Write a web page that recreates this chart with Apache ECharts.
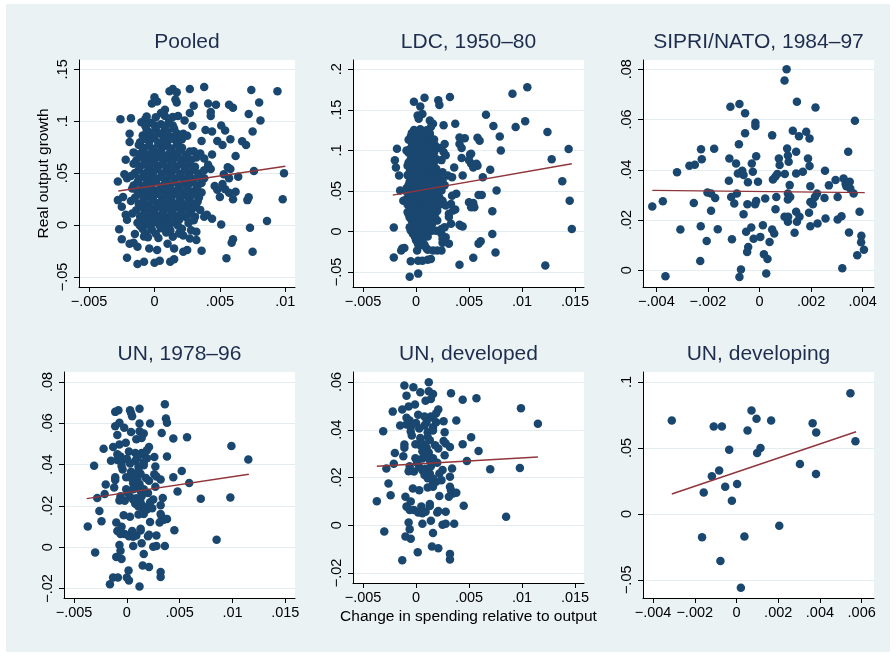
<!DOCTYPE html>
<html>
<head>
<meta charset="utf-8">
<script src="https://cdn.jsdelivr.net/npm/echarts@6/dist/echarts.min.js"></script>
<style>
html, body { margin: 0; padding: 0; background: #fff; }
#frame { position: absolute; left: 6px; top: 4px; width: 884px; height: 648px; background: #eaf2f3; }
#chart { position: absolute; left: 0; top: 0; width: 896px; height: 656px; }
</style>
</head>
<body>
<div id="frame"></div>
<div id="chart"></div>
<script>
// panel titles
const titles = ["Pooled", "LDC, 1950\u201380", "SIPRI/NATO, 1984\u201397", "UN, 1978\u201396", "UN, developed", "UN, developing"];

// tick values per panel
const ticksX1 = [-0.005, 0, 0.005, 0.01];
const ticksY1 = [-0.05, 0, 0.05, 0.1, 0.15];
const ticksX2 = [-0.005, 0, 0.005, 0.01, 0.015];
const ticksY2 = [-0.05, 0, 0.05, 0.1, 0.15, 0.2];
const ticksX3 = [-0.004, -0.002, 0, 0.002, 0.004];
const ticksY3 = [0, 0.02, 0.04, 0.06, 0.08];
const ticksX4 = [-0.005, 0, 0.005, 0.01, 0.015];
const ticksY4 = [-0.02, 0, 0.02, 0.04, 0.06, 0.08];
const ticksX5 = [-0.005, 0, 0.005, 0.01, 0.015];
const ticksY5 = [-0.02, 0, 0.02, 0.04, 0.06];
const ticksX6 = [-0.004, -0.002, 0, 0.002, 0.004, 0.006];
const ticksY6 = [-0.05, 0, 0.05, 0.1];

// fitted lines (end points)
const fitPooled = [[-0.00276, 0.0328], [0.0100, 0.0566]];
const fitLdc = [[-0.0022, 0.0449], [0.0147, 0.0835]];
const fitSipri = [[-0.00416, 0.0318], [0.00408, 0.0309]];
const fitUn = [[-0.0038, 0.0235], [0.01155, 0.0353]];
const fitDeveloped = [[-0.0037, 0.0247], [0.0115, 0.0286]];
const fitDeveloping = [[-0.0031, 0.0151], [0.00573, 0.0623]];

// Pooled: scattered points
const pooledOuter = [
  [0.0014,0.131],[0.00115,0.129],[0.0017,0.128],[0.0027,0.131],[0.0038,0.133],[0.0074,0.130],[0.0094,0.129],
  [0.0080,0.118],[0.0,0.123],[0.0002,0.119],[-0.0002,0.117],[0.0016,0.121],[0.0017,0.118],[0.0030,0.115],
  [0.0041,0.117],[0.0047,0.116],[0.0057,0.116],[0.0060,0.113],[0.0043,0.109],[0.0043,0.105],[0.0018,0.105],
  [0.0008,0.111],[0.0005,0.108],[0.0023,0.1006],[0.0027,0.108],[-0.0026,0.102],[-0.0018,0.103],[-0.0007,0.102],
  [-0.0010,0.099],[0.0072,0.107],[0.0081,0.1006],[0.0051,0.096],[0.0054,0.091],[0.0075,0.090],[0.0039,0.0916],
  [0.0044,0.090],[0.0029,0.0955],[0.0022,0.088],[0.0016,0.086],[0.0025,0.086],[-0.0019,0.088],[-0.0019,0.080],
  [0.0048,0.081],[0.0058,0.0826],[0.0052,0.077],[0.0067,0.0807],[0.0070,0.077],[0.0036,0.081],[0.0062,0.0666],
  [0.0044,0.068],[0.0030,0.071],[0.0035,0.069],[-0.0022,0.063],[-0.0016,0.070],[0.0038,0.064],[0.0041,0.058],
  [0.0043,0.054],[0.0056,0.0556],[0.0058,0.054],[0.0076,0.052],[0.0099,0.0498],[0.0053,0.049],[0.0064,0.0466],
  [0.0057,0.045],[0.0038,0.045],[-0.0028,0.042],[-0.0023,0.049],[-0.0021,0.045],[0.0046,0.0376],[0.0052,0.0395],
  [0.0054,0.0344],[0.0048,0.034],[0.0057,0.031],[0.0062,0.032],[0.0050,0.027],[0.0060,0.0248],[0.0071,0.024],
  [0.0072,0.0267],[0.0098,0.0248],[-0.0028,0.024],[-0.0024,0.027],[-0.0025,0.0177],[-0.0022,0.010],[-0.0021,0.005],
  [-0.0027,-0.004],[-0.0025,-0.0138],[0.0051,0.0006],[0.0086,0.0039],[0.0073,-0.0026],[0.0060,-0.0138],
  [0.0059,-0.017],[0.0075,-0.0257],[0.0055,-0.032],[0.0036,-0.0248],[0.0025,-0.024],[0.0032,-0.0145],
  [-0.0021,-0.0315],[-0.0013,-0.0376],[-0.0008,-0.0354],[0.0,-0.0363],[0.0004,-0.0344],[0.0012,-0.0354],
  [0.0015,-0.033],[-0.0004,-0.0225],[0.0002,-0.024],[0.0010,-0.018],[0.0015,-0.0225],[0.0022,-0.0257],
  [-0.0016,-0.017],[-0.0013,-0.021],[-0.0019,-0.018],[-0.0015,-0.0087],[-0.0008,-0.011],[0.0019,-0.008],
  [0.0022,-0.010],[0.0012,-0.006],[0.0028,-0.005],[0.0032,-0.0065],[0.0038,0.008],[0.0040,0.010],[0.0044,0.006]
];
// Pooled: dense middle cluster
const pooledCore = [
  [-0.0003,0.0985],[0.0005,0.0972],[0.0011,0.0991],
  [-0.0006,0.0918],[0.0001,0.0925],[0.0008,0.0912],[0.0015,0.0930],
  [-0.0009,0.0862],[-0.0002,0.0855],[0.0006,0.0868],[0.0012,0.0849],
  [-0.0011,0.0798],[-0.0004,0.0806],[0.0003,0.0792],[0.0010,0.0810],[0.0018,0.0795],
  [-0.0008,0.0741],[-0.0001,0.0733],[0.0006,0.0748],[0.0013,0.0736],[0.0021,0.0744],
  [-0.0012,0.0683],[-0.0005,0.0676],[0.0002,0.0689],[0.0009,0.0671],[0.0016,0.0685],[0.0024,0.0678],
  [-0.0014,0.0622],[-0.0007,0.0615],[0.0000,0.0628],[0.0007,0.0611],[0.0014,0.0624],[0.0021,0.0617],[0.0028,0.0630],
  [-0.0011,0.0563],[-0.0004,0.0556],[0.0003,0.0570],[0.0010,0.0552],[0.0017,0.0565],[0.0024,0.0558],[0.0031,0.0561],
  [-0.0015,0.0501],[-0.0008,0.0494],[-0.0001,0.0508],[0.0006,0.0497],[0.0013,0.0505],[0.0020,0.0492],[0.0027,0.0503],[0.0034,0.0496],
  [-0.0012,0.0443],[-0.0005,0.0436],[0.0002,0.0449],[0.0009,0.0432],[0.0016,0.0446],[0.0023,0.0438],[0.0030,0.0441],
  [-0.0016,0.0382],[-0.0009,0.0375],[-0.0002,0.0388],[0.0005,0.0371],[0.0012,0.0384],[0.0019,0.0377],[0.0026,0.0390],[0.0033,0.0379],
  [-0.0013,0.0322],[-0.0006,0.0315],[0.0001,0.0328],[0.0008,0.0311],[0.0015,0.0324],[0.0022,0.0317],[0.0029,0.0320],[0.0036,0.0313],
  [-0.0015,0.0262],[-0.0008,0.0255],[-0.0001,0.0268],[0.0006,0.0251],[0.0013,0.0264],[0.0020,0.0257],[0.0027,0.0260],[0.0034,0.0266],
  [-0.0012,0.0203],[-0.0005,0.0196],[0.0002,0.0209],[0.0009,0.0192],[0.0016,0.0205],[0.0023,0.0198],[0.0030,0.0201],
  [-0.0014,0.0142],[-0.0007,0.0135],[0.0000,0.0148],[0.0007,0.0131],[0.0014,0.0144],[0.0021,0.0137],[0.0028,0.0140],[0.0035,0.0146],
  [-0.0011,0.0083],[-0.0004,0.0076],[0.0003,0.0089],[0.0010,0.0072],[0.0017,0.0085],[0.0024,0.0078],[0.0031,0.0081],
  [-0.0013,0.0022],[-0.0006,0.0015],[0.0001,0.0028],[0.0008,0.0011],[0.0015,0.0024],[0.0026,0.0019],
  [-0.0009,-0.0038],[-0.0002,-0.0045],[0.0005,-0.0032],[0.0012,-0.0049],[0.0021,-0.0036],
  [-0.0005,-0.0118],[0.0003,-0.0125],[0.0014,-0.0112],[0.0027,-0.0130]
];
const pooledFill = [
  [-0.0006,0.1045],[0.0001,0.1038],[0.0008,0.1051],[0.0014,0.1042],
  [-0.0007,0.0955],[0.0000,0.0962],[0.0008,0.0949],[0.0014,0.0958],
  [-0.0004,0.0893],[0.0003,0.0886],[0.0010,0.0897],[0.0017,0.0884],
  [-0.0007,0.0828],[0.0000,0.0835],[0.0007,0.0822],[0.0014,0.0831],[0.0021,0.0826],
  [-0.0012,0.0772],[-0.0004,0.0766],[0.0003,0.0777],[0.0010,0.0764],[0.0017,0.0773],
  [-0.0009,0.0712],[-0.0002,0.0705],[0.0005,0.0716],[0.0012,0.0703],[0.0019,0.0714],[0.0027,0.0708],
  [-0.0010,0.0652],[-0.0003,0.0645],[0.0004,0.0656],[0.0011,0.0643],[0.0018,0.0654],[0.0025,0.0647],[0.0032,0.0651],
  [-0.0016,0.0591],[-0.0008,0.0586],[-0.0001,0.0595],[0.0006,0.0583],[0.0013,0.0594],[0.0020,0.0587],[0.0027,0.0592],
  [-0.0012,0.0533],[-0.0005,0.0526],[0.0002,0.0537],[0.0009,0.0524],[0.0016,0.0535],[0.0023,0.0528],[0.0030,0.0532],[0.0038,0.0527],
  [-0.0018,0.0472],[-0.0009,0.0465],[-0.0002,0.0476],[0.0005,0.0463],[0.0012,0.0474],[0.0019,0.0467],[0.0026,0.0471],[0.0033,0.0466],
  [-0.0013,0.0412],[-0.0006,0.0405],[0.0001,0.0416],[0.0008,0.0403],[0.0015,0.0414],[0.0022,0.0407],[0.0029,0.0411],[0.0036,0.0406],
  [-0.0017,0.0352],[-0.0010,0.0345],[-0.0003,0.0356],[0.0004,0.0343],[0.0011,0.0354],[0.0018,0.0347],[0.0025,0.0351],[0.0032,0.0346],
  [-0.0010,0.0292],[-0.0003,0.0285],[0.0004,0.0296],[0.0011,0.0283],[0.0018,0.0294],[0.0025,0.0287],[0.0032,0.0291],
  [-0.0018,0.0232],[-0.0009,0.0225],[-0.0002,0.0236],[0.0005,0.0223],[0.0012,0.0234],[0.0019,0.0227],[0.0026,0.0231],[0.0033,0.0226],
  [-0.0010,0.0172],[-0.0003,0.0165],[0.0004,0.0176],[0.0011,0.0163],[0.0018,0.0174],[0.0025,0.0167],[0.0032,0.0171],
  [-0.0017,0.0112],[-0.0008,0.0105],[-0.0001,0.0116],[0.0006,0.0103],[0.0013,0.0114],[0.0020,0.0107],[0.0027,0.0111],
  [-0.0009,0.0052],[-0.0002,0.0045],[0.0005,0.0056],[0.0012,0.0043],[0.0019,0.0054],[0.0030,0.0047],
  [-0.0011,-0.0008],[-0.0003,-0.0015],[0.0004,-0.0004],[0.0011,-0.0017],[0.0018,-0.0006],
  [-0.0007,-0.0078],[0.0001,-0.0085],[0.0009,-0.0072],[0.0019,-0.0081]
];

// LDC, 1950-80
const ldcOuter = [
  [0.0105,0.178],[0.0091,0.170],[0.0094,0.129],[0.0103,0.136],[0.0124,0.1226],[0.0144,0.1016],[0.0128,0.089],
  [0.0138,0.062],[0.0145,0.038],[0.0147,0.003],[0.0122,-0.042],[0.0066,0.144],[0.0073,0.130],[0.0079,0.117],
  [0.0080,0.100],[0.0070,0.076],[0.0076,0.0506],[0.0072,0.025],[0.0072,-0.003],[0.0075,-0.026],[0.0054,-0.0325],
  [0.0059,-0.015],[0.0061,-0.012],[0.0063,0.067],[0.0062,0.045],[0.0059,0.045],[0.0054,0.035],[0.0055,0.030],
  [0.0052,0.0835],[0.0058,0.081],[0.0051,0.095],[0.0058,0.1156],[0.0060,0.112],[0.0046,0.115],[0.0041,0.116],
  [0.0041,0.108],[0.0043,0.103],[0.0043,0.0905],[0.0052,0.096],[0.0050,0.0877],[0.0036,0.079],[0.0044,0.069],
  [0.0038,0.0465],[0.0037,0.027],[0.0042,0.007],[0.0044,0.006],[0.0041,-0.041],[0.0037,0.133],[0.0032,0.166],
  [0.0021,0.162],[0.0022,0.156],[0.0008,0.165],[-0.0002,0.160],[0.0004,0.154],[0.00015,0.143],[0.0006,0.145],
  [0.00025,0.139],[0.0013,0.137],[0.0016,0.133],[0.0014,0.129],[0.0026,0.131],[0.0018,0.106],[0.0022,0.103],
  [0.0027,0.108],[0.0026,0.098],[0.0017,0.090],[0.0024,0.088],[0.0028,0.094],[0.0025,0.073],[0.0030,0.069],
  [0.0034,0.067],[0.0054,0.079],[0.0057,0.0836],[0.0022,0.067],[0.0025,0.063],[0.0027,0.057],[0.0024,0.0506],
  [0.0022,0.042],[0.0025,0.038],[0.0028,0.032],[0.0035,0.026],[0.0031,0.0177],[0.0033,0.0095],[0.0027,0.0053],
  [0.0024,-0.0029],[0.0028,-0.007],[0.0031,-0.015],[0.0041,0.0083],[0.0050,0.036],[0.0052,0.030],
  [-0.0018,0.102],[-0.0020,0.0877],[-0.0019,0.079],[-0.0016,0.069],[-0.0015,0.0506],[-0.0009,0.100],
  [-0.0008,0.024],[-0.0009,0.040],[-0.0021,0.005],[-0.0013,-0.021],[-0.0021,-0.032],[-0.0014,-0.0235],
  [-0.0011,-0.0205],[-0.0012,0.038],[-0.0005,-0.0366],[-0.0006,-0.056],[0.0002,-0.052],[0.0002,-0.036],
  [0.0006,-0.036],[0.0011,-0.035],[0.0014,-0.034],[0.0001,-0.0235],[0.0006,-0.017],[0.0010,-0.021],
  [0.0011,-0.0226],[0.0016,-0.0235],[0.0020,-0.0235],[0.0024,-0.0235],[0.0025,-0.014],[0.0025,-0.009],
  [0.0024,0.003],[0.0015,0.001],[0.0019,0.001],[0.0031,0.022],[0.0033,0.034],[0.0034,0.044]
];
const ldcCore = [
  [-0.0002,0.1253],[0.0004,0.1262],[0.0010,0.1247],
  [-0.0005,0.1172],[0.0001,0.1165],[0.0007,0.1178],[0.0013,0.1169],
  [-0.0003,0.1088],[0.0003,0.1095],[0.0009,0.1083],[0.0015,0.1092],
  [-0.0006,0.1012],[0.0000,0.1005],[0.0006,0.1018],[0.0012,0.1008],[0.0018,0.1014],
  [-0.0004,0.0932],[0.0002,0.0925],[0.0008,0.0938],[0.0014,0.0928],
  [-0.0007,0.0852],[-0.0001,0.0845],[0.0005,0.0858],[0.0011,0.0848],[0.0017,0.0855],
  [-0.0005,0.0772],[0.0001,0.0765],[0.0007,0.0778],[0.0013,0.0768],[0.0019,0.0775],
  [-0.0008,0.0692],[-0.0002,0.0685],[0.0004,0.0698],[0.0010,0.0688],[0.0016,0.0695],
  [-0.0006,0.0612],[0.0000,0.0605],[0.0006,0.0618],[0.0012,0.0608],[0.0018,0.0615],
  [-0.0009,0.0532],[-0.0003,0.0525],[0.0003,0.0538],[0.0009,0.0528],[0.0015,0.0535],[0.0021,0.0529],
  [-0.0006,0.0452],[0.0000,0.0445],[0.0006,0.0458],[0.0012,0.0448],[0.0018,0.0455],
  [-0.0008,0.0372],[-0.0002,0.0365],[0.0004,0.0378],[0.0010,0.0368],[0.0016,0.0375],[0.0022,0.0369],
  [-0.0005,0.0292],[0.0001,0.0285],[0.0007,0.0298],[0.0013,0.0288],[0.0019,0.0295],
  [-0.0007,0.0212],[-0.0001,0.0205],[0.0005,0.0218],[0.0011,0.0208],[0.0017,0.0215],
  [-0.0004,0.0132],[0.0002,0.0125],[0.0008,0.0138],[0.0014,0.0128],[0.0020,0.0135],
  [-0.0006,0.0052],[0.0000,0.0045],[0.0006,0.0058],[0.0012,0.0048],
  [-0.0003,-0.0028],[0.0003,-0.0035],[0.0009,-0.0022],
  [0.0000,-0.0108],[0.0006,-0.0115]
];
const ldcFill = [
  [-0.0004,0.1213],[0.0002,0.1206],[0.0008,0.1218],[0.0013,0.1209],
  [-0.0007,0.1132],[-0.0001,0.1125],[0.0005,0.1137],[0.0011,0.1128],[0.0017,0.1134],
  [-0.0004,0.1052],[0.0002,0.1045],[0.0008,0.1057],[0.0014,0.1048],
  [-0.0007,0.0972],[-0.0001,0.0965],[0.0005,0.0977],[0.0011,0.0968],[0.0017,0.0974],
  [-0.0005,0.0892],[0.0001,0.0885],[0.0007,0.0897],[0.0013,0.0888],[0.0019,0.0894],
  [-0.0008,0.0812],[-0.0002,0.0805],[0.0004,0.0817],[0.0010,0.0808],[0.0016,0.0814],
  [-0.0006,0.0732],[0.0000,0.0725],[0.0006,0.0737],[0.0012,0.0728],[0.0018,0.0734],
  [-0.0005,0.0652],[0.0001,0.0645],[0.0007,0.0657],[0.0013,0.0648],[0.0019,0.0654],
  [-0.0007,0.0572],[-0.0001,0.0565],[0.0005,0.0577],[0.0011,0.0568],[0.0017,0.0574],[0.0024,0.0569],
  [-0.0009,0.0492],[-0.0003,0.0485],[0.0003,0.0497],[0.0009,0.0488],[0.0015,0.0494],[0.0021,0.0489],
  [-0.0005,0.0412],[0.0001,0.0405],[0.0007,0.0417],[0.0013,0.0408],[0.0019,0.0414],
  [-0.0008,0.0332],[-0.0002,0.0325],[0.0004,0.0337],[0.0010,0.0328],[0.0016,0.0334],[0.0022,0.0329],
  [-0.0004,0.0252],[0.0002,0.0245],[0.0008,0.0257],[0.0014,0.0248],[0.0020,0.0254],
  [-0.0006,0.0172],[0.0000,0.0165],[0.0006,0.0177],[0.0012,0.0168],[0.0018,0.0174],
  [-0.0003,0.0092],[0.0003,0.0085],[0.0009,0.0097],[0.0015,0.0088],
  [-0.0005,0.0012],[0.0001,0.0005],[0.0007,0.0017],[0.0013,0.0008],
  [-0.0001,-0.0068],[0.0005,-0.0075],[0.0011,-0.0062],
  [0.0002,-0.0158],[0.0008,-0.0165]
];

// SIPRI/NATO, 1984-97
const sipri = [
  [-0.00416,0.0254],[-0.00375,0.0275],[-0.00365,-0.0024],[-0.0032,0.039],[-0.00307,0.0162],[-0.00272,0.0416],
  [-0.00251,0.042],[-0.00255,0.0268],[-0.00227,0.0482],[-0.00224,0.0442],[-0.00228,0.0175],[-0.0023,0.0037],
  [-0.00205,0.0117],[-0.00202,0.031],[-0.00188,0.0306],[-0.00188,0.0237],[-0.00176,0.0484],[-0.00172,0.0288],
  [-0.00162,0.0163],[-0.00113,0.0651],[-0.00117,0.0445],[-0.00119,0.0356],[-0.0011,0.0292],[-0.00107,0.0124],
  [-0.00098,0.0266],[-0.00091,0.0425],[-0.00088,0.0306],[-0.00084,0.0385],[-0.0008,0.0502],[-0.00078,0.0662],
  [-0.00078,-0.0027],[-0.00072,0.0003],[-0.00067,0.0396],[-0.00062,0.0223],[-0.00056,0.0625],[-0.00056,0.0545],
  [-0.00062,0.0379],[-0.00052,0.0153],[-0.00048,0.0073],[-0.00044,0.0093],[-0.00045,0.035],[-0.00047,0.0263],
  [-0.00032,0.017],[-0.0003,0.0425],[-0.00026,0.0392],[-0.00023,0.0126],[-0.00016,0.0587],[-0.00016,0.0574],
  [-0.00013,0.0454],[-0.00017,0.0263],[-0.00013,0.0276],[-0.00006,0.0352],[0.00003,0.0133],[0.00013,0.0179],
  [0.00017,0.0064],[0.00022,0.0286],[0.00026,-0.0013],[0.00031,0.0045],[0.00039,0.0113],[0.00049,0.0162],
  [0.00049,0.0537],[0.00052,0.0361],[0.00057,0.0146],[0.00061,0.0372],[0.00062,0.0243],[0.00065,0.0292],
  [0.00069,0.0383],[0.00075,0.0445],[0.00078,0.0419],[0.00097,0.0755],[0.00105,0.080],[0.00098,0.0383],
  [0.00097,0.0213],[0.00107,0.0485],[0.0011,0.0457],[0.00113,0.0432],[0.0011,0.0306],[0.0011,0.0282],
  [0.0011,0.0193],[0.00117,0.0339],[0.00119,0.0292],[0.00111,0.0213],[0.00129,0.0555],[0.00136,0.0149],
  [0.00142,0.0472],[0.00145,0.0671],[0.00142,0.0385],[0.00142,0.0233],[0.00145,0.0193],[0.00153,0.0534],
  [0.00155,0.0213],[0.00168,0.0392],[0.00181,0.0551],[0.00188,0.0445],[0.00192,0.0229],[0.00194,0.0415],
  [0.00194,0.0525],[0.00197,0.0335],[0.00197,0.0272],[0.00197,0.0175],[0.00207,0.0263],[0.00215,0.0292],
  [0.00217,0.0648],[0.00223,0.0306],[0.00225,0.0186],[0.00254,0.0396],[0.00252,0.0288],[0.00256,0.0206],
  [0.00269,0.0338],[0.00295,0.0359],[0.00303,0.0292],[0.00303,0.0202],[0.00318,0.0215],[0.00321,0.0008],
  [0.00326,0.0365],[0.00334,0.0343],[0.00337,0.0335],[0.00344,0.0472],[0.00347,0.015],[0.0035,0.0352],
  [0.00352,0.0326],[0.00365,0.0306],[0.0037,0.0595],[0.00379,0.006],[0.00388,0.0233],[0.00395,0.0137],
  [0.00394,0.0112],[0.00405,0.0082]
];

// UN, developed
const developed = [
  [0.0012,0.0599],[-0.0011,0.0585],[-0.00025,0.0578],[0.0004,0.0557],[0.0012,0.0561],[0.0016,0.055],[0.0014,0.0529],
  [0.0009,0.0522],[-0.0009,0.0543],[0.0033,0.0553],[0.0044,0.0526],[0.0057,0.0532],[-0.0001,0.0506],[-0.0007,0.0497],
  [-0.0013,0.0485],[-0.0022,0.0476],[0.0099,0.049],[0.0021,0.0485],[0.0019,0.0469],[0.0002,0.0463],[0.0008,0.0456],
  [0.0014,0.0456],[0.0016,0.045],[-0.0009,0.045],[-0.0006,0.0439],[0.0038,0.0439],[0.0026,0.0436],[-0.0015,0.0418],
  [-0.0009,0.0422],[-0.0005,0.0411],[0.0,0.0428],[0.0008,0.0418],[0.0016,0.0411],[0.0016,0.0397],[-0.0031,0.0394],
  [-0.0005,0.0393],[-0.0004,0.0376],[0.0011,0.039],[0.0027,0.039],[0.0115,0.0425],[0.0052,0.0369],[0.0011,0.037],
  [0.0013,0.0356],[0.0007,0.0339],[-0.00006,0.0339],[-0.0011,0.0338],[-0.0011,0.0325],[0.0026,0.0353],[0.0028,0.0342],
  [0.0044,0.0339],[0.0032,0.0328],[0.0021,0.0321],[-0.002,0.0303],[0.0059,0.0311],[-0.0012,0.0289],[0.0027,0.0293],
  [-0.00006,0.0281],[0.0006,0.028],[0.0009,0.029],[0.0013,0.0272],[0.0016,0.0281],[0.0048,0.0269],[-0.0021,0.0258],
  [-0.0028,0.0238],[-0.0006,0.0247],[-0.0007,0.0226],[0.0003,0.0244],[0.0006,0.023],[0.0009,0.0237],[0.0014,0.0247],
  [0.0034,0.0238],[0.007,0.0235],[0.0098,0.024],[0.0008,0.0210],[0.0013,0.0217],[0.0016,0.0196],[0.0022,0.0217],
  [0.0025,0.0231],[0.0019,0.0182],[0.0016,0.0175],[0.0032,0.0203],[-0.0026,0.0175],[-0.0003,0.0154],[0.0003,0.0147],
  [0.0011,0.0158],[0.0016,0.0161],[0.0022,0.0122],[0.0032,0.0161],[0.0033,0.0147],[0.0035,0.0133],[0.0038,0.0136],
  [0.0031,0.0119],[-0.0024,0.0126],[-0.0037,0.01],[-0.001,0.0119],[-0.0009,0.0078],[-0.0005,0.0099],[0.0045,0.0082],
  [-0.0006,0.0064],[-0.0002,0.0064],[0.0002,0.0053],[0.0006,0.005],[0.0009,0.0057],[0.0005,0.0078],[0.0013,0.0081],
  [0.0013,0.0089],[0.0028,0.0057],[0.002,0.0053],[0.0021,0.006],[0.0014,0.0019],[0.0006,0.0006],[-0.0007,0.0011],
  [0.0025,0.0002],[0.0028,0.0006],[0.0036,0.0006],[0.0085,0.0036],[-0.003,-0.0026],[-0.0006,-0.0017],[0.0016,-0.0033],
  [-0.001,-0.0047],[-0.0005,-0.0057],[0.0015,-0.0089],[0.0021,-0.0096],[0.00016,-0.0113],[0.0032,-0.012],
  [0.0032,-0.0144],[-0.0013,-0.0147],
  [0.0004,0.0335],[0.0010,0.0325],[0.0012,0.0305],[0.0006,0.031],[0.0018,0.0335],[0.0003,0.0405],[0.0010,0.0432],
  [0.0019,0.0431],[0.0004,0.0365],[0.0020,0.0262],[0.0001,0.0262],[0.0024,0.0189],[0.0011,0.0197],[-0.0002,0.0225]
];
// UN, 1978-96: points beyond the developed set
const unExtra = [
  [0.0036,0.0692],[0.0012,0.067],[-0.0011,0.0655],[-0.0008,0.0663],[0.0003,0.0663],[0.0004,0.065],[0.0005,0.0634],
  [0.0037,0.0623],[0.0038,0.0602],[0.0022,0.0599],[-0.0007,0.0602],[-0.0016,-0.0179],[-0.00085,-0.0147],
  [0.0,-0.0147],[0.0002,-0.0161],[0.0012,-0.019]
];

// UN, developing
const developing = [
  [-0.0031,0.0709],[-0.00157,0.0163],[-0.00109,0.0663],[-0.0007,0.0663],[-0.00118,0.0286],[-0.00083,0.0329],
  [-0.00054,0.0206],[-0.00035,0.0487],[-0.00022,0.01],[0.00003,0.0226],[-0.00165,-0.0178],[-0.00077,-0.0357],
  [0.00021,-0.056],[0.00038,-0.0171],[0.00053,0.0633],[0.00072,0.0784],[0.00096,0.0721],[0.00099,0.0462],
  [0.00115,0.05],[0.00166,0.0709],[0.00205,-0.009],[0.00304,0.0379],[0.00365,0.0688],[0.00382,0.0618],
  [0.00381,0.0302],[0.00546,0.0915],[0.0057,0.055]
];

const panels = [
  { data: pooledOuter.concat(pooledCore, pooledFill), fit: fitPooled, xt: ticksX1, yt: ticksY1,
    x: [-0.00577, 0.01074], y: [-0.0597, 0.159], grid: { left: 79, top: 60, width: 216, height: 227 } },
  { data: ldcOuter.concat(ldcCore, ldcFill), fit: fitLdc, xt: ticksX2, yt: ticksY2,
    x: [-0.00595, 0.01585], y: [-0.0685, 0.2115], grid: { left: 353, top: 60, width: 231, height: 227 } },
  { data: sipri, fit: fitSipri, xt: ticksX3, yt: ticksY3,
    x: [-0.00452, 0.00444], y: [-0.00665, 0.0837], grid: { left: 643, top: 60, width: 231, height: 227 } },
  { data: developed.concat(unExtra), fit: fitUn, xt: ticksX4, yt: ticksY4,
    x: [-0.00595, 0.01592], y: [-0.0246, 0.0848], grid: { left: 64, top: 372, width: 231, height: 226 } },
  { data: developed, fit: fitDeveloped, xt: ticksX5, yt: ticksY5,
    x: [-0.00595, 0.01585], y: [-0.0242, 0.0642], grid: { left: 353, top: 372, width: 231, height: 211 } },
  { data: developing, fit: fitDeveloping, xt: ticksX6, yt: ticksY6,
    x: [-0.00448, 0.00659], y: [-0.0638, 0.1076], grid: { left: 643, top: 372, width: 231, height: 226 } }
];

// Stata style labels: .05, −.05, 0
function fmt(v) {
  if (Math.abs(v) < 1e-12) return "0";
  let s = String(+Number(v).toPrecision(6));
  s = s.replace("0.", ".");
  return s.replace("-", "\u2212");
}

const font = "'Liberation Sans', Arial, sans-serif";
const navy = "#1a476f";
const maroon = "#90353b";

const option = {
  animation: false,
  title: [],
  grid: [],
  xAxis: [],
  yAxis: [],
  series: []
};

panels.forEach((p, i) => {
  option.grid.push(Object.assign({ show: true, backgroundColor: "#fff", borderWidth: 0 }, p.grid));
  option.title.push({
    text: titles[i],
    left: p.grid.left + p.grid.width / 2,
    top: p.grid.top - 28.5,
    textAlign: "center",
    padding: 0,
    textStyle: { fontFamily: font, fontSize: 21, fontWeight: "normal", color: "#1e2d4e" }
  });
  option.xAxis.push({
    type: "value", gridIndex: i, min: p.x[0], max: p.x[1],
    axisLine: { show: true, onZero: false, lineStyle: { color: "#000", width: 1 } },
    axisTick: { show: true, length: 5, customValues: p.xt, lineStyle: { color: "#000" } },
    axisLabel: { customValues: p.xt, formatter: fmt, color: "#000", fontSize: 14.5, fontFamily: font, margin: 7 },
    splitLine: { show: false },
    name: i === 4 ? "Change in spending relative to output" : "",
    nameLocation: "middle", nameGap: 26,
    nameTextStyle: { color: "#000", fontSize: 15.5, fontFamily: font }
  });
  option.yAxis.push({
    type: "value", gridIndex: i, min: p.y[0], max: p.y[1],
    axisLine: { show: true, onZero: false, lineStyle: { color: "#000", width: 1 } },
    axisTick: { show: true, length: 5, customValues: p.yt, lineStyle: { color: "#000" } },
    axisLabel: { customValues: p.yt, formatter: fmt, color: "#000", fontSize: 14.5, fontFamily: font, margin: 9, rotate: 90 },
    splitLine: { show: true, lineStyle: { color: "#e3edef", width: 1 } },
    name: i === 0 ? "Real output growth" : "",
    nameLocation: "middle", nameGap: 27, nameRotate: 90,
    nameTextStyle: { color: "#000", fontSize: 15.5, fontFamily: font }
  });
  option.series.push({
    type: "scatter", xAxisIndex: i, yAxisIndex: i, data: p.data,
    symbolSize: 8.5, itemStyle: { color: navy, opacity: 1 }, z: 2
  });
  option.series.push({
    type: "line", xAxisIndex: i, yAxisIndex: i, data: p.fit,
    symbol: "none", lineStyle: { color: maroon, width: 1.4 }, z: 3
  });
});

const chart = echarts.init(document.getElementById("chart"));
chart.setOption(option);
</script>
</body>
</html>
